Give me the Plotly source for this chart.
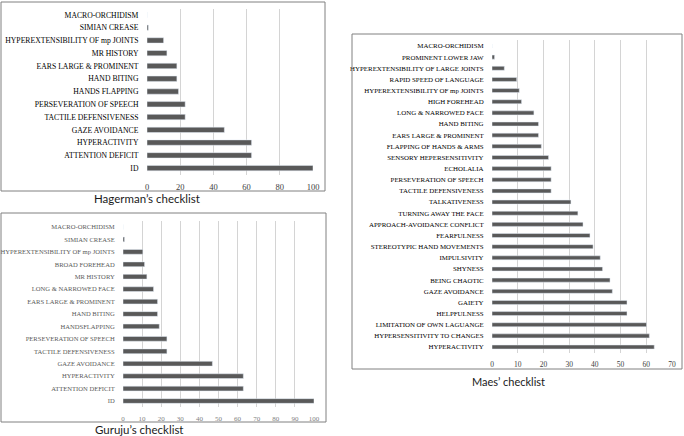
import plotly.graph_objects as go

W, H = 684, 436

# ---------------- data ----------------
hag_labels = ["MACRO-ORCHIDISM", "SIMIAN CREASE", "HYPEREXTENSIBILITY OF mp JOINTS", "MR HISTORY",
              "EARS LARGE & PROMINENT", "HAND BITING", "HANDS FLAPPING", "PERSEVERATION OF SPEECH",
              "TACTILE DEFENSIVENESS", "GAZE AVOIDANCE", "HYPERACTIVITY", "ATTENTION DEFICIT", "ID"]
hag_values = [0, 0.8, 10, 12, 18, 18, 19, 23, 23, 46.6, 63, 63, 100]

gur_labels = ["MACRO-ORCHIDISM", "SIMIAN CREASE", "HYPEREXTENSIBILITY OF mp JOINTS", "BROAD FOREHEAD",
              "MR HISTORY", "LONG & NARROWED FACE", "EARS LARGE & PROMINENT", "HAND BITING",
              "HANDSFLAPPING", "PERSEVERATION OF SPEECH", "TACTILE DEFENSIVENESS", "GAZE AVOIDANCE",
              "HYPERACTIVITY", "ATTENTION DEFICIT", "ID"]
gur_values = [0, 0.8, 10.4, 11.3, 12.5, 16, 18.1, 18.1, 19, 23, 23, 46.8, 63, 63, 100]

maes_labels = ["MACRO-ORCHIDISM", "PROMINENT LOWER JAW", "HYPEREXTENSIBILITY OF LARGE JOINTS",
               "RAPID SPEED OF LANGUAGE", "HYPEREXTENSIBILITY OF mp JOINTS", "HIGH FOREHEAD",
               "LONG & NARROWED FACE", "HAND BITING", "EARS LARGE & PROMINENT", "FLAPPING OF HANDS & ARMS",
               "SENSORY HEPERSENSITIVITY", "ECHOLALIA", "PERSEVERATION OF SPEECH", "TACTILE DEFENSIVENESS",
               "TALKATIVENESS", "TURNING AWAY THE FACE", "APPROACH-AVOIDANCE CONFLICT", "FEARFULNESS",
               "STEREOTYPIC HAND MOVEMENTS", "IMPULSIVITY", "SHYNESS", "BEING CHAOTIC", "GAZE AVOIDANCE",
               "GAIETY", "HELPFULNESS", "LIMITATION OF OWN LAGUANGE", "HYPERSENSITIVITY TO CHANGES",
               "HYPERACTIVITY"]
maes_values = [0, 1, 4.8, 9.6, 10.6, 11.5, 16.3, 18.1, 18.1, 19.2, 22, 23, 23, 23, 30.7, 33.4, 35.4,
               38.1, 39.3, 42.1, 43, 45.9, 46.8, 52.5, 52.5, 60.1, 61.2, 63.1]

titles = ["Hagerman’s checklist", "Guruju’s checklist", "Maes’ checklist"]


def px(x):
    return x / W


def py(y):
    return 1 - y / H


BAR = "#595959"
GRID = "#d4d4d4"
SERIF = "Liberation Serif"

fig = go.Figure()

fig.add_trace(go.Bar(x=hag_values, y=hag_labels, orientation="h", marker_color=BAR,
                     width=0.42, xaxis="x", yaxis="y", showlegend=False))
fig.add_trace(go.Bar(x=gur_values, y=gur_labels, orientation="h", marker_color=BAR,
                     width=0.38, xaxis="x2", yaxis="y2", showlegend=False))
fig.add_trace(go.Bar(x=maes_values, y=maes_labels, orientation="h", marker_color=BAR,
                     width=0.36, xaxis="x3", yaxis="y3", showlegend=False))

common_x = dict(showgrid=True, gridcolor=GRID, gridwidth=1, zeroline=False, showline=False,
                ticks="outside", ticklen=4, tickcolor="rgba(0,0,0,0)", automargin=False)
common_y = dict(type="category", autorange="reversed", showgrid=False, zeroline=False, showline=False,
                ticks="outside", ticklen=6, tickcolor="rgba(0,0,0,0)", automargin=False)

fig.update_layout(
    width=W, height=H, autosize=False,
    margin=dict(l=0, r=0, t=0, b=0),
    paper_bgcolor="white", plot_bgcolor="white",
    bargap=0.5,
    xaxis=dict(domain=[px(147), px(313)], range=[0, 100], dtick=20, anchor="y",
               tickfont=dict(family=SERIF, size=8.5, color="#404040"), **common_x),
    yaxis=dict(domain=[py(174.5), py(8.5)], anchor="x",
               tickfont=dict(family=SERIF, size=7.7, color="#000000"), **common_y),
    xaxis2=dict(domain=[px(123), px(314)], range=[0, 100], dtick=10, anchor="y2",
                tickfont=dict(family=SERIF, size=7, color="#808080"), **common_x),
    yaxis2=dict(domain=[py(407.2), py(220.8)], anchor="x2",
                tickfont=dict(family=SERIF, size=6.6, color="#5a5a5a"), **common_y),
    xaxis3=dict(domain=[px(492), px(672)], range=[0, 70], dtick=10, anchor="y3",
                tickfont=dict(family=SERIF, size=7.5, color="#404040"), **common_x),
    yaxis3=dict(domain=[py(352.6), py(40.4)], anchor="x3",
                tickfont=dict(family=SERIF, size=6.9, color="#000000"), **common_y),
)

# panel borders
for (x0, y0, x1, y1) in [(1, 2, 325, 191), (1, 213, 326, 422), (352, 34, 682, 369)]:
    fig.add_shape(type="rect", xref="paper", yref="paper",
                  x0=px(x0), y0=py(y1), x1=px(x1), y1=py(y0),
                  line=dict(color="#808080", width=1), fillcolor="rgba(0,0,0,0)")

# panel titles
for t, (cx, cy), fs in zip(titles, [(147, 198), (139, 429), (509, 381)], [11.5, 11.5, 11]):
    fig.add_annotation(text=t, xref="paper", yref="paper", x=px(cx), y=py(cy),
                       xanchor="center", yanchor="middle", showarrow=False,
                       font=dict(family="Lato", size=fs, color="#1a1a1a"))

fig.write_html("out.html", config={"displayModeBar": False},
               post_script="document.body.style.margin='0';")
